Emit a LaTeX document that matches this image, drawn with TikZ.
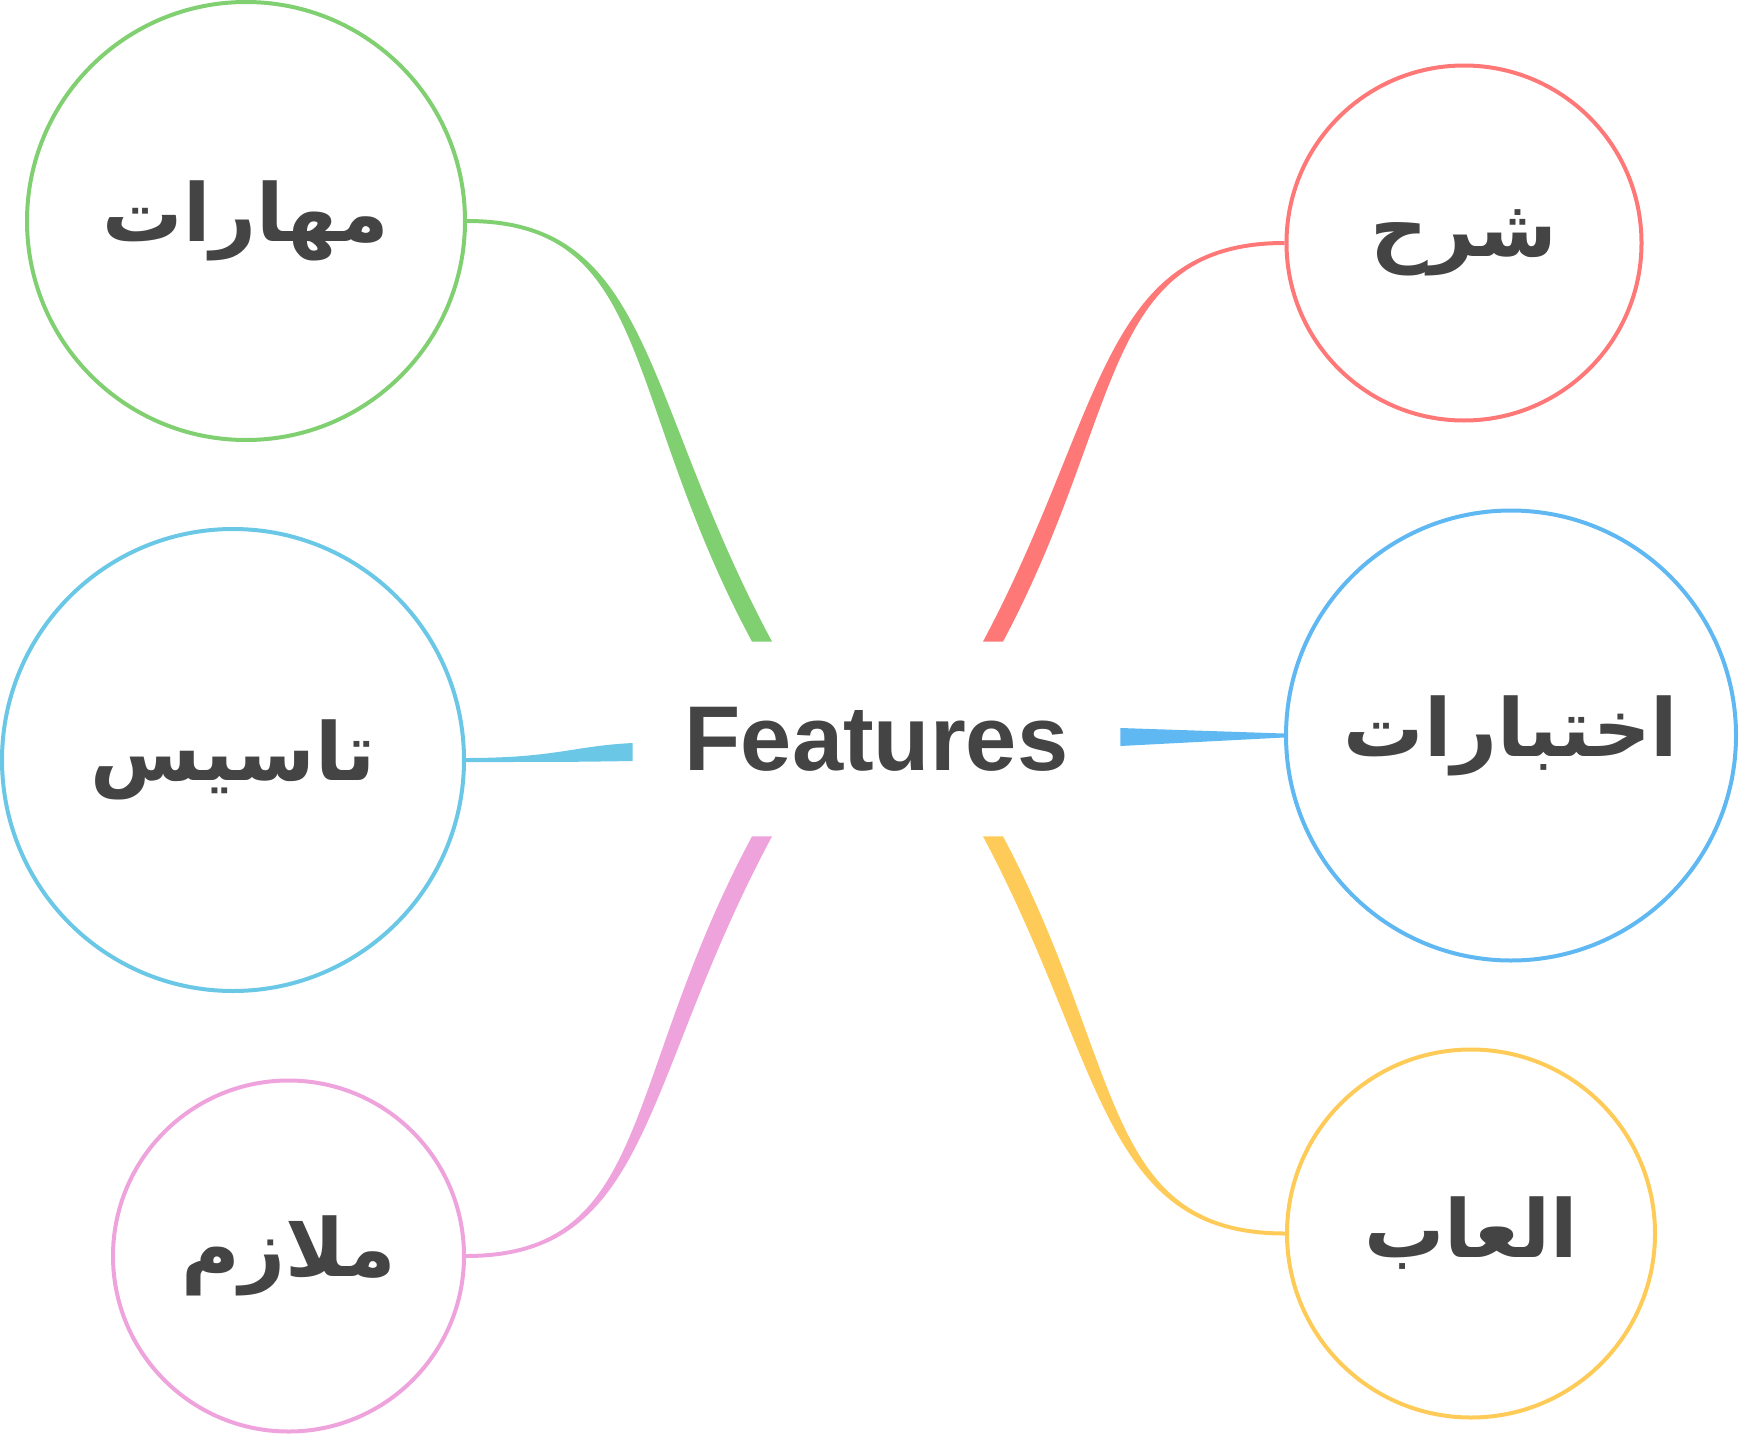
\documentclass[tikz,border=0pt]{standalone}
\usepackage{fontspec}
\usetikzlibrary{calc}
\TeXXeTstate=1
\newfontfamily\arabicfont[Script=Arabic]{DejaVu Sans}
\newfontfamily\featfont{Liberation Sans}
\definecolor{txt}{HTML}{444444}
\definecolor{cgreen}{HTML}{80CF70}
\definecolor{ccyan}{HTML}{6AC8E6}
\definecolor{cpink}{HTML}{EFA3DC}
\definecolor{cred}{HTML}{FF7878}
\definecolor{cblue}{HTML}{60B8F2}
\definecolor{cyellow}{HTML}{FFCB58}
\tikzset{
  leaf/.style={circle, draw=#1, line width=2pt, inner sep=0pt, text=txt,
     font=\arabicfont\bfseries\fontsize{40}{48}\selectfont},
  hub/.style={rectangle, inner sep=0pt, minimum width=243.5pt, minimum height=97pt,
     text=txt, font=\featfont\bfseries\fontsize{46}{52}\selectfont},
}
\begin{document}
\begin{tikzpicture}[x=0.5pt,y=-0.5pt]
\useasboundingbox (0,0) rectangle (1739,1434);
% nodes
\node[hub] (features) at (876.5,739) {Features};
\node[leaf=cgreen, minimum size=219pt] (mah) at (246,221) {\beginR مهارات\endR};
\node[leaf=ccyan, minimum size=231pt] (tas) at (233,760) {\beginR تاسيس\endR};
\node[leaf=cpink, minimum size=175.5pt] (mal) at (288.5,1256) {\beginR ملازم\endR};
\node[leaf=cred, minimum size=177.5pt] (shr) at (1464,243) {\beginR شرح\endR};
\node[leaf=cblue, minimum size=225pt] (ikh) at (1511,735.5) {\beginR اختبارات\endR};
\node[leaf=cyellow, minimum size=184pt] (alab) at (1471,1233.5) {\beginR العاب\endR};
% connector end points on the hub
\coordinate (gE) at ($(features.north)+(-114.5,0)$);
\coordinate (pE) at ($(features.south)+(-114.5,0)$);
\coordinate (rE) at ($(features.north)+(116.5,0)$);
\coordinate (yE) at ($(features.south)+(116.5,0)$);
\coordinate (cE) at ($(features.west)+(0,13)$);
\coordinate (bE) at ($(features.east)+(0,-2)$);
% green
\fill[cgreen] ($(mah.east)+(0,-2)$) .. controls ($(mah.east)+(186,-2)$) and ($(gE)+(-122,-246)$) .. ($(gE)+(10,0)$)
  -- ($(gE)+(-10,0)$) .. controls ($(gE)+(-142,-246)$) and ($(mah.east)+(186,2)$) .. ($(mah.east)+(0,2)$) -- cycle;
% pink
\fill[cpink] ($(mal.east)+(0,-2)$) .. controls ($(mal.east)+(186,-2)$) and ($(pE)+(-142,246)$) .. ($(pE)+(-10,0)$)
  -- ($(pE)+(10,0)$) .. controls ($(pE)+(-122,246)$) and ($(mal.east)+(186,2)$) .. ($(mal.east)+(0,2)$) -- cycle;
% red
\fill[cred] ($(shr.west)+(0,-2)$) .. controls ($(shr.west)+(-184,-2)$) and ($(rE)+(112,-229)$) .. ($(rE)+(-10,0)$)
  -- ($(rE)+(10,0)$) .. controls ($(rE)+(132,-229)$) and ($(shr.west)+(-184,2)$) .. ($(shr.west)+(0,2)$) -- cycle;
% yellow
\fill[cyellow] ($(alab.west)+(0,-2)$) .. controls ($(alab.west)+(-184,-2)$) and ($(yE)+(132,229)$) .. ($(yE)+(10,0)$)
  -- ($(yE)+(-10,0)$) .. controls ($(yE)+(112,229)$) and ($(alab.west)+(-184,2)$) .. ($(alab.west)+(0,2)$) -- cycle;
% cyan
\fill[ccyan] ($(tas.east)+(0,-2)$) .. controls ($(tas.east)+(90,-2)$) and ($(cE)+(-60,-6)$) .. ($(cE)+(0,-9)$)
  -- ($(cE)+(0,9)$) .. controls ($(cE)+(-60,10)$) and ($(tas.east)+(90,2)$) .. ($(tas.east)+(0,2)$) -- cycle;
% blue
\fill[cblue] ($(ikh.west)+(0,-2)$) -- ($(bE)+(0,-9)$) -- ($(bE)+(0,9)$) -- ($(ikh.west)+(0,2)$) -- cycle;
\end{tikzpicture}
\end{document}
